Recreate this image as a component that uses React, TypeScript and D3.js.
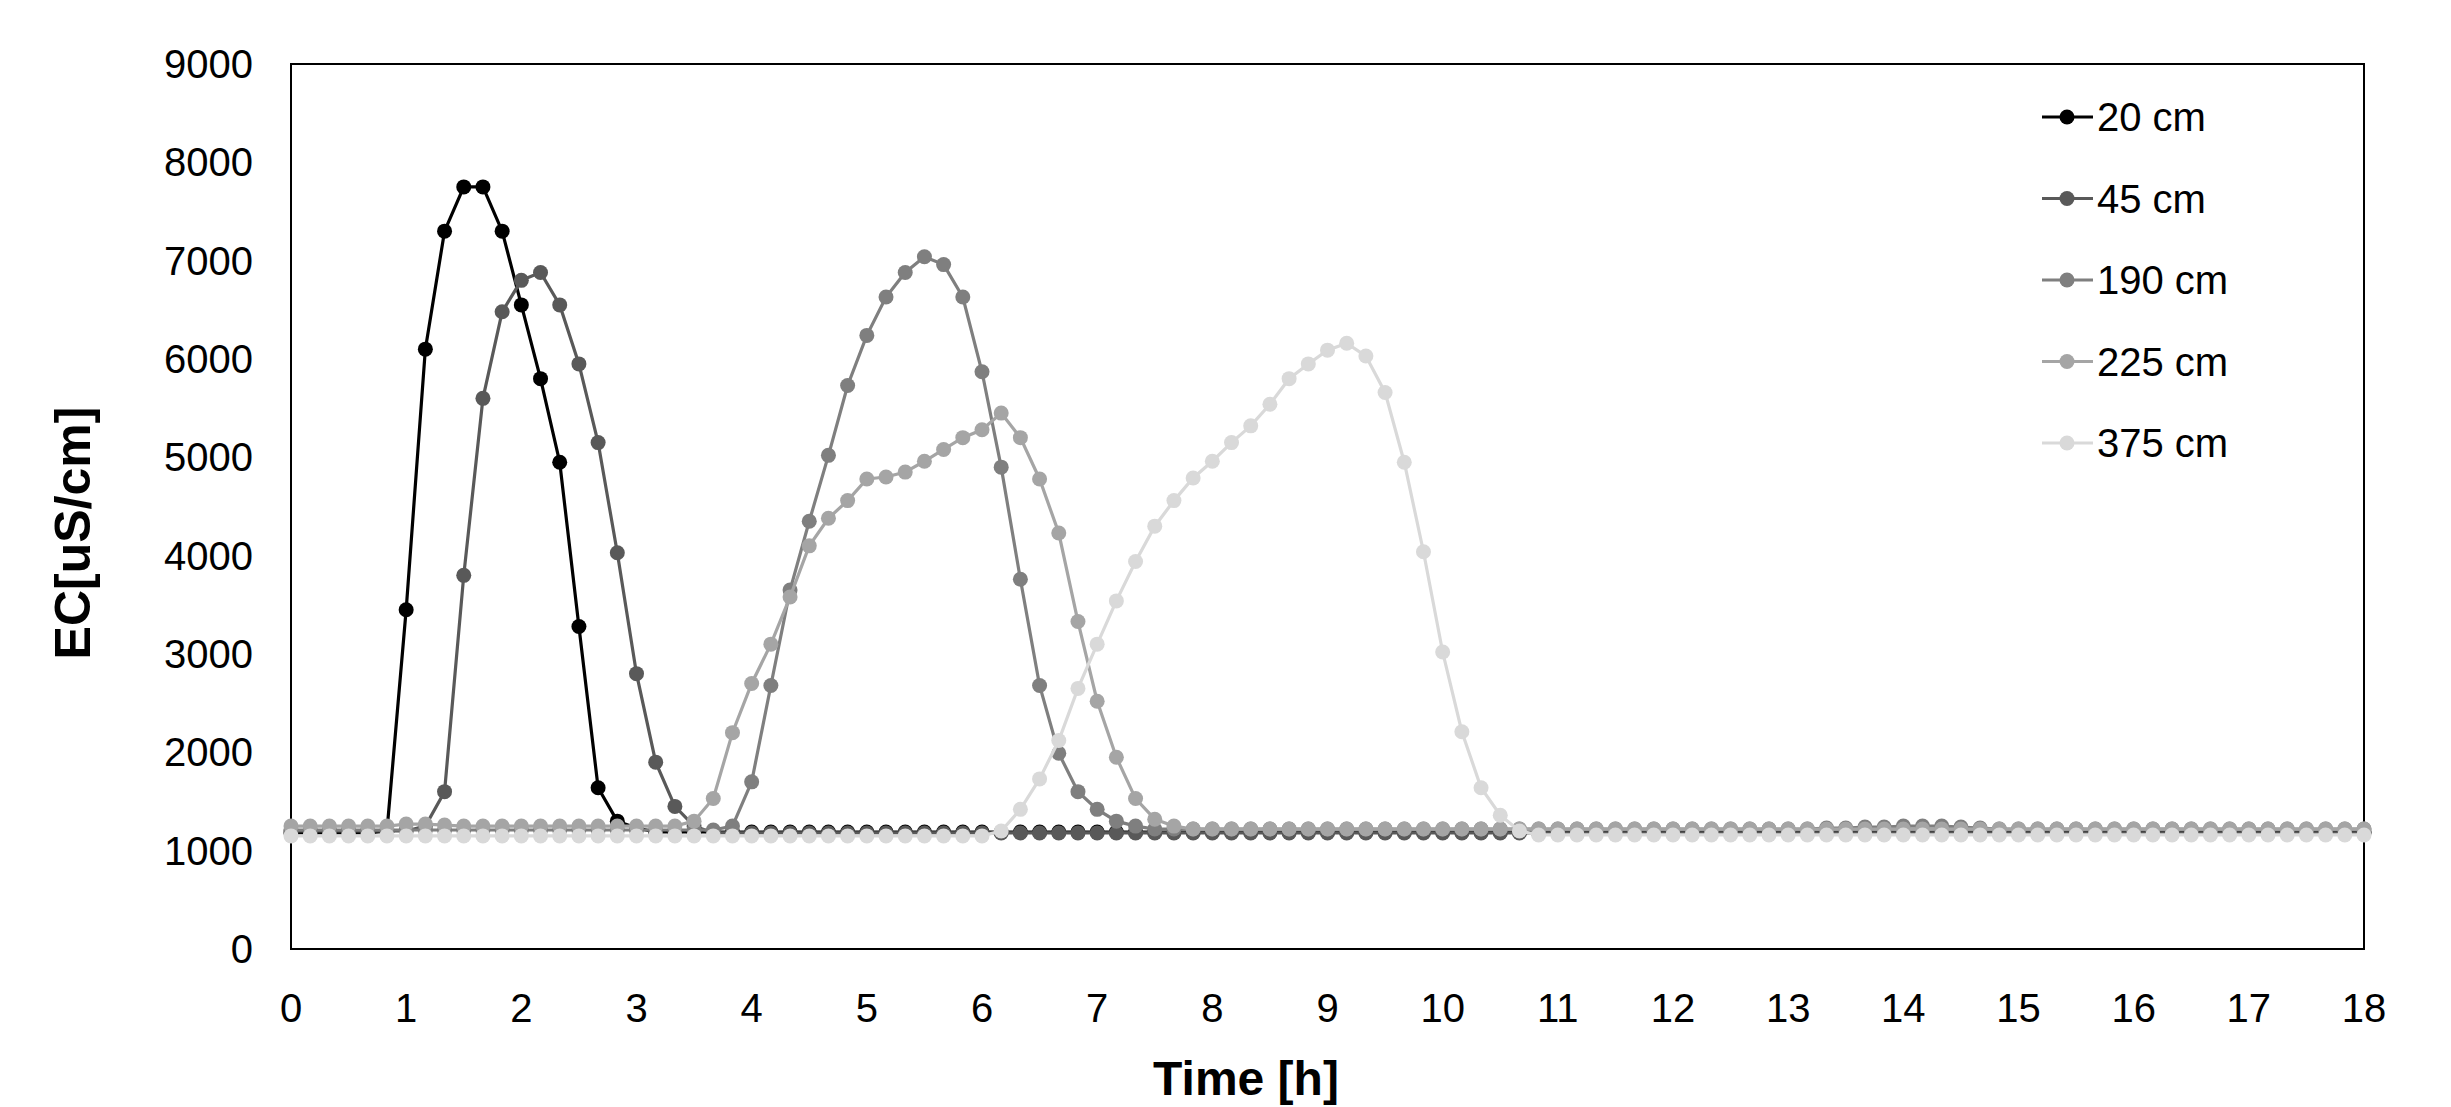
import * as d3 from 'd3';

// readings every 10 min (t = i / 6 h), 0..18 h
const s20 = [
  1180, 1180, 1180, 1180, 1180, 1200, 3450, 6100, 7300, 7750,
  7750, 7300, 6550, 5800, 4950, 3280, 1640, 1300, 1230, 1190,
  1190, 1190, 1190, 1190, 1190, 1190, 1190, 1190, 1190, 1190,
  1190, 1190, 1190, 1190, 1190, 1190, 1190, 1190, 1190, 1190,
  1190, 1190, 1190, 1190, 1190, 1190, 1190, 1190, 1190, 1190,
  1190, 1190, 1190, 1190, 1190, 1190, 1190, 1190, 1190, 1190,
  1190, 1190, 1190, 1190, 1190, 1190, 1190, 1190, 1190, 1190,
  1190, 1190, 1190, 1190, 1190, 1190, 1190, 1190, 1190, 1190,
  1190, 1190, 1190, 1190, 1190, 1190, 1190, 1190, 1190, 1190,
  1190, 1190, 1190, 1190, 1190, 1190, 1190, 1190, 1190, 1190,
  1190, 1190, 1190, 1190, 1190, 1190, 1190, 1190, 1190,
];
const s45 = [
  1200, 1200, 1200, 1200, 1200, 1200, 1200, 1250, 1600, 3800,
  5600, 6480, 6800, 6880, 6550, 5950, 5150, 4030, 2800, 1900,
  1450, 1250, 1180, 1180, 1180, 1180, 1180, 1180, 1180, 1180,
  1180, 1180, 1180, 1180, 1180, 1180, 1180, 1180, 1180, 1180,
  1180, 1180, 1180, 1180, 1180, 1180, 1180, 1180, 1180, 1180,
  1180, 1180, 1180, 1180, 1180, 1180, 1180, 1180, 1180, 1180,
  1180, 1180, 1180, 1180, 1180, 1180, 1180, 1180, 1180, 1180,
  1180, 1180, 1180, 1180, 1180, 1180, 1180, 1180, 1180, 1180,
  1180, 1180, 1180, 1180, 1180, 1180, 1180, 1180, 1180, 1180,
  1180, 1180, 1180, 1180, 1180, 1180, 1180, 1180, 1180, 1180,
  1180, 1180, 1180, 1180, 1180, 1180, 1180, 1180, 1180,
];
const s190 = [
  1210, 1210, 1210, 1210, 1210, 1210, 1210, 1210, 1210, 1210,
  1210, 1210, 1210, 1210, 1210, 1210, 1210, 1210, 1210, 1210,
  1210, 1210, 1210, 1250, 1700, 2680, 3650, 4350, 5020, 5730,
  6240, 6630, 6880, 7040, 6960, 6630, 5870, 4900, 3760, 2680,
  1990, 1600, 1420, 1300, 1250, 1220, 1220, 1220, 1220, 1220,
  1220, 1220, 1220, 1220, 1220, 1220, 1220, 1220, 1220, 1220,
  1220, 1220, 1220, 1220, 1220, 1220, 1220, 1220, 1220, 1220,
  1220, 1220, 1220, 1220, 1220, 1220, 1220, 1220, 1220, 1220,
  1230, 1230, 1240, 1240, 1250, 1250, 1250, 1240, 1230, 1220,
  1220, 1220, 1220, 1220, 1220, 1220, 1220, 1220, 1220, 1220,
  1220, 1220, 1220, 1220, 1220, 1220, 1220, 1220, 1220,
];
const s225 = [
  1250, 1250, 1250, 1250, 1250, 1250, 1270, 1270, 1260, 1250,
  1250, 1250, 1250, 1250, 1250, 1250, 1250, 1250, 1250, 1250,
  1250, 1300, 1530, 2200, 2700, 3100, 3580, 4100, 4380, 4560,
  4780, 4800, 4850, 4960, 5080, 5200, 5280, 5450, 5200, 4780,
  4230, 3330, 2520, 1950, 1530, 1320, 1250, 1220, 1220, 1220,
  1220, 1220, 1220, 1220, 1220, 1220, 1220, 1220, 1220, 1220,
  1220, 1220, 1220, 1220, 1220, 1220, 1220, 1220, 1220, 1220,
  1220, 1220, 1220, 1220, 1220, 1220, 1220, 1220, 1220, 1220,
  1220, 1220, 1220, 1220, 1220, 1220, 1220, 1220, 1220, 1220,
  1220, 1220, 1220, 1220, 1220, 1220, 1220, 1220, 1220, 1220,
  1220, 1220, 1220, 1220, 1220, 1220, 1220, 1220, 1220,
];
const s375 = [
  1150, 1150, 1150, 1150, 1150, 1150, 1150, 1150, 1150, 1150,
  1150, 1150, 1150, 1150, 1150, 1150, 1150, 1150, 1150, 1150,
  1150, 1150, 1150, 1150, 1150, 1150, 1150, 1150, 1150, 1150,
  1150, 1150, 1150, 1150, 1150, 1150, 1150, 1200, 1420, 1730,
  2120, 2650, 3100, 3540, 3940, 4300, 4560, 4790, 4960, 5150,
  5320, 5540, 5800, 5950, 6090, 6160, 6030, 5660, 4950, 4040,
  3020, 2210, 1640, 1360, 1200, 1160, 1160, 1160, 1160, 1160,
  1160, 1160, 1160, 1160, 1160, 1160, 1160, 1160, 1160, 1160,
  1160, 1160, 1160, 1160, 1160, 1160, 1160, 1160, 1160, 1160,
  1160, 1160, 1160, 1160, 1160, 1160, 1160, 1160, 1160, 1160,
  1160, 1160, 1160, 1160, 1160, 1160, 1160, 1160, 1160,
];

const seriesNames = ['20 cm', '45 cm', '190 cm', '225 cm', '375 cm'];
const seriesValues = [s20, s45, s190, s225, s375];
const seriesColors = ['#000000', '#595959', '#7f7f7f', '#a5a5a5', '#d9d9d9'];
const xTicks = d3.range(0, 19);
const yTicks = d3.range(0, 10000, 1000);

const W = 2451;
const H = 1107;
const m = { left: 291, right: 2364, top: 64, bottom: 949 };
const font = '"Liberation Sans", Arial, sans-serif';

export default function App() {
  const x = d3.scaleLinear().domain([0, 18]).range([m.left, m.right]);
  const y = d3.scaleLinear().domain([0, 9000]).range([m.bottom, m.top]);
  const line = d3.line<number>().x((_, i) => x(i / 6)).y(d => y(d));

  return (
    <svg width={W} height={H} style={{ position: 'absolute', left: 0, top: 0, background: '#fff' }} fontFamily={font}>
      <rect x={m.left} y={m.top} width={m.right - m.left} height={m.bottom - m.top} fill="none" stroke="#000" strokeWidth={2} />
      {yTicks.map(t => (
        <text key={t} x={m.left - 38} y={y(t)} dy="0.35em" textAnchor="end" fontSize={40}>{t}</text>
      ))}
      {xTicks.map(t => (
        <text key={t} x={x(t)} y={1022} textAnchor="middle" fontSize={40}>{t}</text>
      ))}
      <text x={1246} y={1095} textAnchor="middle" fontSize={48} fontWeight="bold">Time [h]</text>
      <text transform={`translate(90,533) rotate(-90)`} textAnchor="middle" fontSize={50} fontWeight="bold">EC[uS/cm]</text>
      {seriesValues.map((vals, k) => (
        <g key={k}>
          <path d={line(vals) || ''} fill="none" stroke={seriesColors[k]} strokeWidth={3.2} />
          {vals.map((v, i) => (
            <circle key={i} cx={x(i / 6)} cy={y(v)} r={7.5} fill={seriesColors[k]} />
          ))}
        </g>
      ))}
      {seriesNames.map((n, k) => {
        const yy = 117 + k * 81.5;
        return (
          <g key={n}>
            <line x1={2042} x2={2093} y1={yy} y2={yy} stroke={seriesColors[k]} strokeWidth={3.2} />
            <circle cx={2067} cy={yy} r={7.5} fill={seriesColors[k]} />
            <text x={2097} y={yy} dy="0.35em" fontSize={40}>{n}</text>
          </g>
        );
      })}
    </svg>
  );
}
